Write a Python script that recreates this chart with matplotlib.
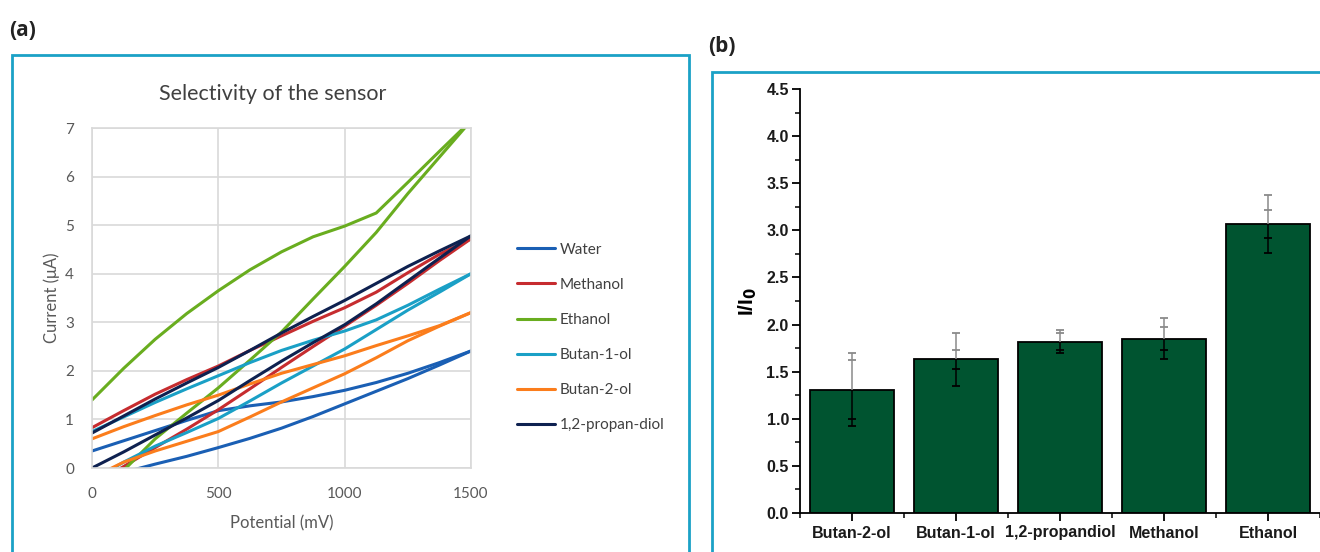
import numpy as np
import matplotlib
matplotlib.use("Agg")
import matplotlib.pyplot as plt
from matplotlib.patches import Rectangle
from matplotlib.ticker import MultipleLocator, FormatStrFormatter

# panel (a): cyclic scans (mV, uA)
potential = [0, 125, 250, 375, 500, 625, 750, 875, 1000, 1125, 1250, 1375, 1500]
water_up = [0.35, 0.56, 0.77, 0.98, 1.18, 1.28, 1.36, 1.47, 1.60, 1.76, 1.95, 2.17, 2.41]
water_dn = [-0.25, -0.09, 0.08, 0.24, 0.42, 0.61, 0.82, 1.06, 1.32, 1.58, 1.84, 2.12, 2.41]
methanol_up = [0.83, 1.18, 1.52, 1.82, 2.10, 2.42, 2.72, 3.02, 3.30, 3.62, 4.02, 4.40, 4.72]
methanol_dn = [-0.35, 0.03, 0.42, 0.80, 1.20, 1.63, 2.07, 2.50, 2.92, 3.35, 3.80, 4.27, 4.72]
ethanol_up = [1.40, 2.05, 2.65, 3.18, 3.65, 4.08, 4.45, 4.76, 4.98, 5.25, 5.88, 6.52, 7.15]
ethanol_dn = [-0.75, -0.05, 0.60, 1.13, 1.65, 2.22, 2.80, 3.48, 4.15, 4.85, 5.65, 6.40, 7.15]
butan1_up = [0.75, 1.05, 1.35, 1.63, 1.90, 2.17, 2.42, 2.63, 2.82, 3.05, 3.35, 3.68, 4.00]
butan1_dn = [-0.25, 0.12, 0.45, 0.73, 1.02, 1.38, 1.75, 2.10, 2.45, 2.85, 3.25, 3.62, 4.00]
butan2_up = [0.60, 0.85, 1.08, 1.30, 1.50, 1.73, 1.95, 2.13, 2.31, 2.52, 2.72, 2.93, 3.20]
butan2_dn = [-0.20, 0.12, 0.35, 0.55, 0.75, 1.05, 1.36, 1.65, 1.94, 2.27, 2.62, 2.92, 3.20]
diol_up = [0.72, 1.07, 1.42, 1.75, 2.07, 2.42, 2.78, 3.12, 3.45, 3.80, 4.15, 4.47, 4.78]
diol_dn = [0.00, 0.33, 0.68, 1.03, 1.39, 1.80, 2.20, 2.58, 2.95, 3.38, 3.85, 4.32, 4.78]

series_names = ["Water", "Methanol", "Ethanol", "Butan-1-ol", "Butan-2-ol", "1,2-propan-diol"]
series_colors = ["#1a5fb4", "#c62c2f", "#69ad1f", "#1aa0c6", "#fb7d1c", "#0e2150"]
series_up = [water_up, methanol_up, ethanol_up, butan1_up, butan2_up, diol_up]
series_dn = [water_dn, methanol_dn, ethanol_dn, butan1_dn, butan2_dn, diol_dn]

# panel (b): I/I0 ratios with two error ranges
compounds = ["Butan-2-ol", "Butan-1-ol", "1,2-propandiol", "Methanol", "Ethanol"]
ratio = [1.31, 1.63, 1.82, 1.85, 3.07]
err_outer = [0.385, 0.28, 0.12, 0.22, 0.31]
err_inner = [0.315, 0.10, 0.09, 0.12, 0.15]

W, H = 1320, 552
fig = plt.figure(figsize=(W / 100, H / 100), dpi=100)
frame = "#1ba1c6"

def fx(px):
    return px / W

def fy(py):
    return 1 - py / H

# frames around both panels
fig.patches.append(Rectangle((fx(12), fy(560)), fx(677), fy(55) - fy(560),
                             transform=fig.transFigure, fill=False,
                             edgecolor=frame, lw=2))
fig.patches.append(Rectangle((fx(712), fy(560)), fx(640), fy(72) - fy(560),
                             transform=fig.transFigure, fill=False,
                             edgecolor=frame, lw=2))
fig.text(fx(9), fy(30), "(a)", fontsize=15, fontweight="bold", family="Open Sans",
         va="center", ha="left", color="#222222")
fig.text(fx(708), fy(46), "(b)", fontsize=15, fontweight="bold", family="Open Sans",
         va="center", ha="left", color="#222222")

# ---- (a) line chart
ax1 = fig.add_axes([fx(92), fy(468), fx(471 - 92), fy(128) - fy(468)])
grey = "#595959"
for name, col, up, dn in zip(series_names, series_colors, series_up, series_dn):
    ax1.plot(potential, up, color=col, lw=2.2, label=name, solid_capstyle="round",
             solid_joinstyle="round")
    ax1.plot(potential, dn, color=col, lw=2.2, solid_capstyle="round",
             solid_joinstyle="round")
ax1.set_xlim(0, 1500)
ax1.set_ylim(0, 7)
ax1.set_xticks([0, 500, 1000, 1500])
ax1.set_yticks(range(0, 8))
ax1.grid(True, color="#d9d9d9", lw=1.2)
ax1.set_axisbelow(True)
for s in ax1.spines.values():
    s.set_color("#d9d9d9")
    s.set_linewidth(1.2)
ax1.tick_params(length=0, labelsize=11, labelcolor=grey)
ax1.tick_params(axis="x", pad=14)
ax1.tick_params(axis="y", pad=13)
for lab in ax1.get_xticklabels() + ax1.get_yticklabels():
    lab.set_family("Lato")
ax1.set_xlabel("Potential (mV)", fontsize=12, color=grey, family="Lato", labelpad=10)
ax1.set_ylabel("Current (μA)", fontsize=12, color=grey, family="Lato", labelpad=4)
fig.text(fx(273), fy(94), "Selectivity of the sensor", fontsize=15.5, family="Lato",
         color="#404040", ha="center", va="center")
ax1.legend(loc="upper left", bbox_to_anchor=(fx(503), fy(229)),
           bbox_transform=fig.transFigure, frameon=False,
           handlelength=2.5, handletextpad=0.33, labelspacing=1.38,
           prop={"family": "Lato", "size": 11}, labelcolor="#404040")

# ---- (b) bar chart
ax2 = fig.add_axes([fx(800), fy(513), fx(1320 - 800), fy(89) - fy(513)])
x = np.arange(len(compounds))
ax2.bar(x, ratio, width=0.8, color="#005430", edgecolor="black", lw=1.3, zorder=2)
cap = 0.04
for xi, v, eo, ei in zip(x, ratio, err_outer, err_inner):
    ax2.vlines(xi, v - eo, v, color="black", lw=1.1, zorder=3)
    ax2.vlines(xi, v, v + eo, color="#8a8a8a", lw=1.1, zorder=3)
    ax2.hlines([v - eo, v - ei], xi - cap, xi + cap, color="black", lw=1.3, zorder=3)
    ax2.hlines([v + ei, v + eo], xi - cap, xi + cap, color="#8a8a8a", lw=1.3, zorder=3)
ax2.set_xlim(-0.5, 4.5)
ax2.set_ylim(0, 4.5)
ax2.set_xticks(x)
ax2.set_xticklabels(compounds)
ax2.xaxis.set_minor_locator(MultipleLocator(1, offset=0.5))
ax2.yaxis.set_major_locator(MultipleLocator(0.5))
ax2.yaxis.set_minor_locator(MultipleLocator(0.25))
ax2.yaxis.set_major_formatter(FormatStrFormatter("%.1f"))
ax2.spines["top"].set_visible(False)
ax2.spines["right"].set_visible(False)
for s in ["left", "bottom"]:
    ax2.spines[s].set_linewidth(1.3)
ax2.tick_params(which="major", length=6, width=1.3, direction="out")
ax2.tick_params(which="minor", length=3.5, width=1.1, direction="out")
ax2.tick_params(axis="x", which="major", labelsize=11.5, pad=3)
ax2.tick_params(axis="y", which="major", labelsize=11.5, pad=2)
for lab in ax2.get_xticklabels() + ax2.get_yticklabels():
    lab.set_family("Liberation Sans")
    lab.set_fontweight("bold")
    lab.set_color("#1a1a1a")
ax2.set_ylabel("I/I$_\\mathbf{0}$", fontsize=15, fontweight="bold",
               family="Liberation Sans", labelpad=5)

fig.savefig("out.png", dpi=100)
